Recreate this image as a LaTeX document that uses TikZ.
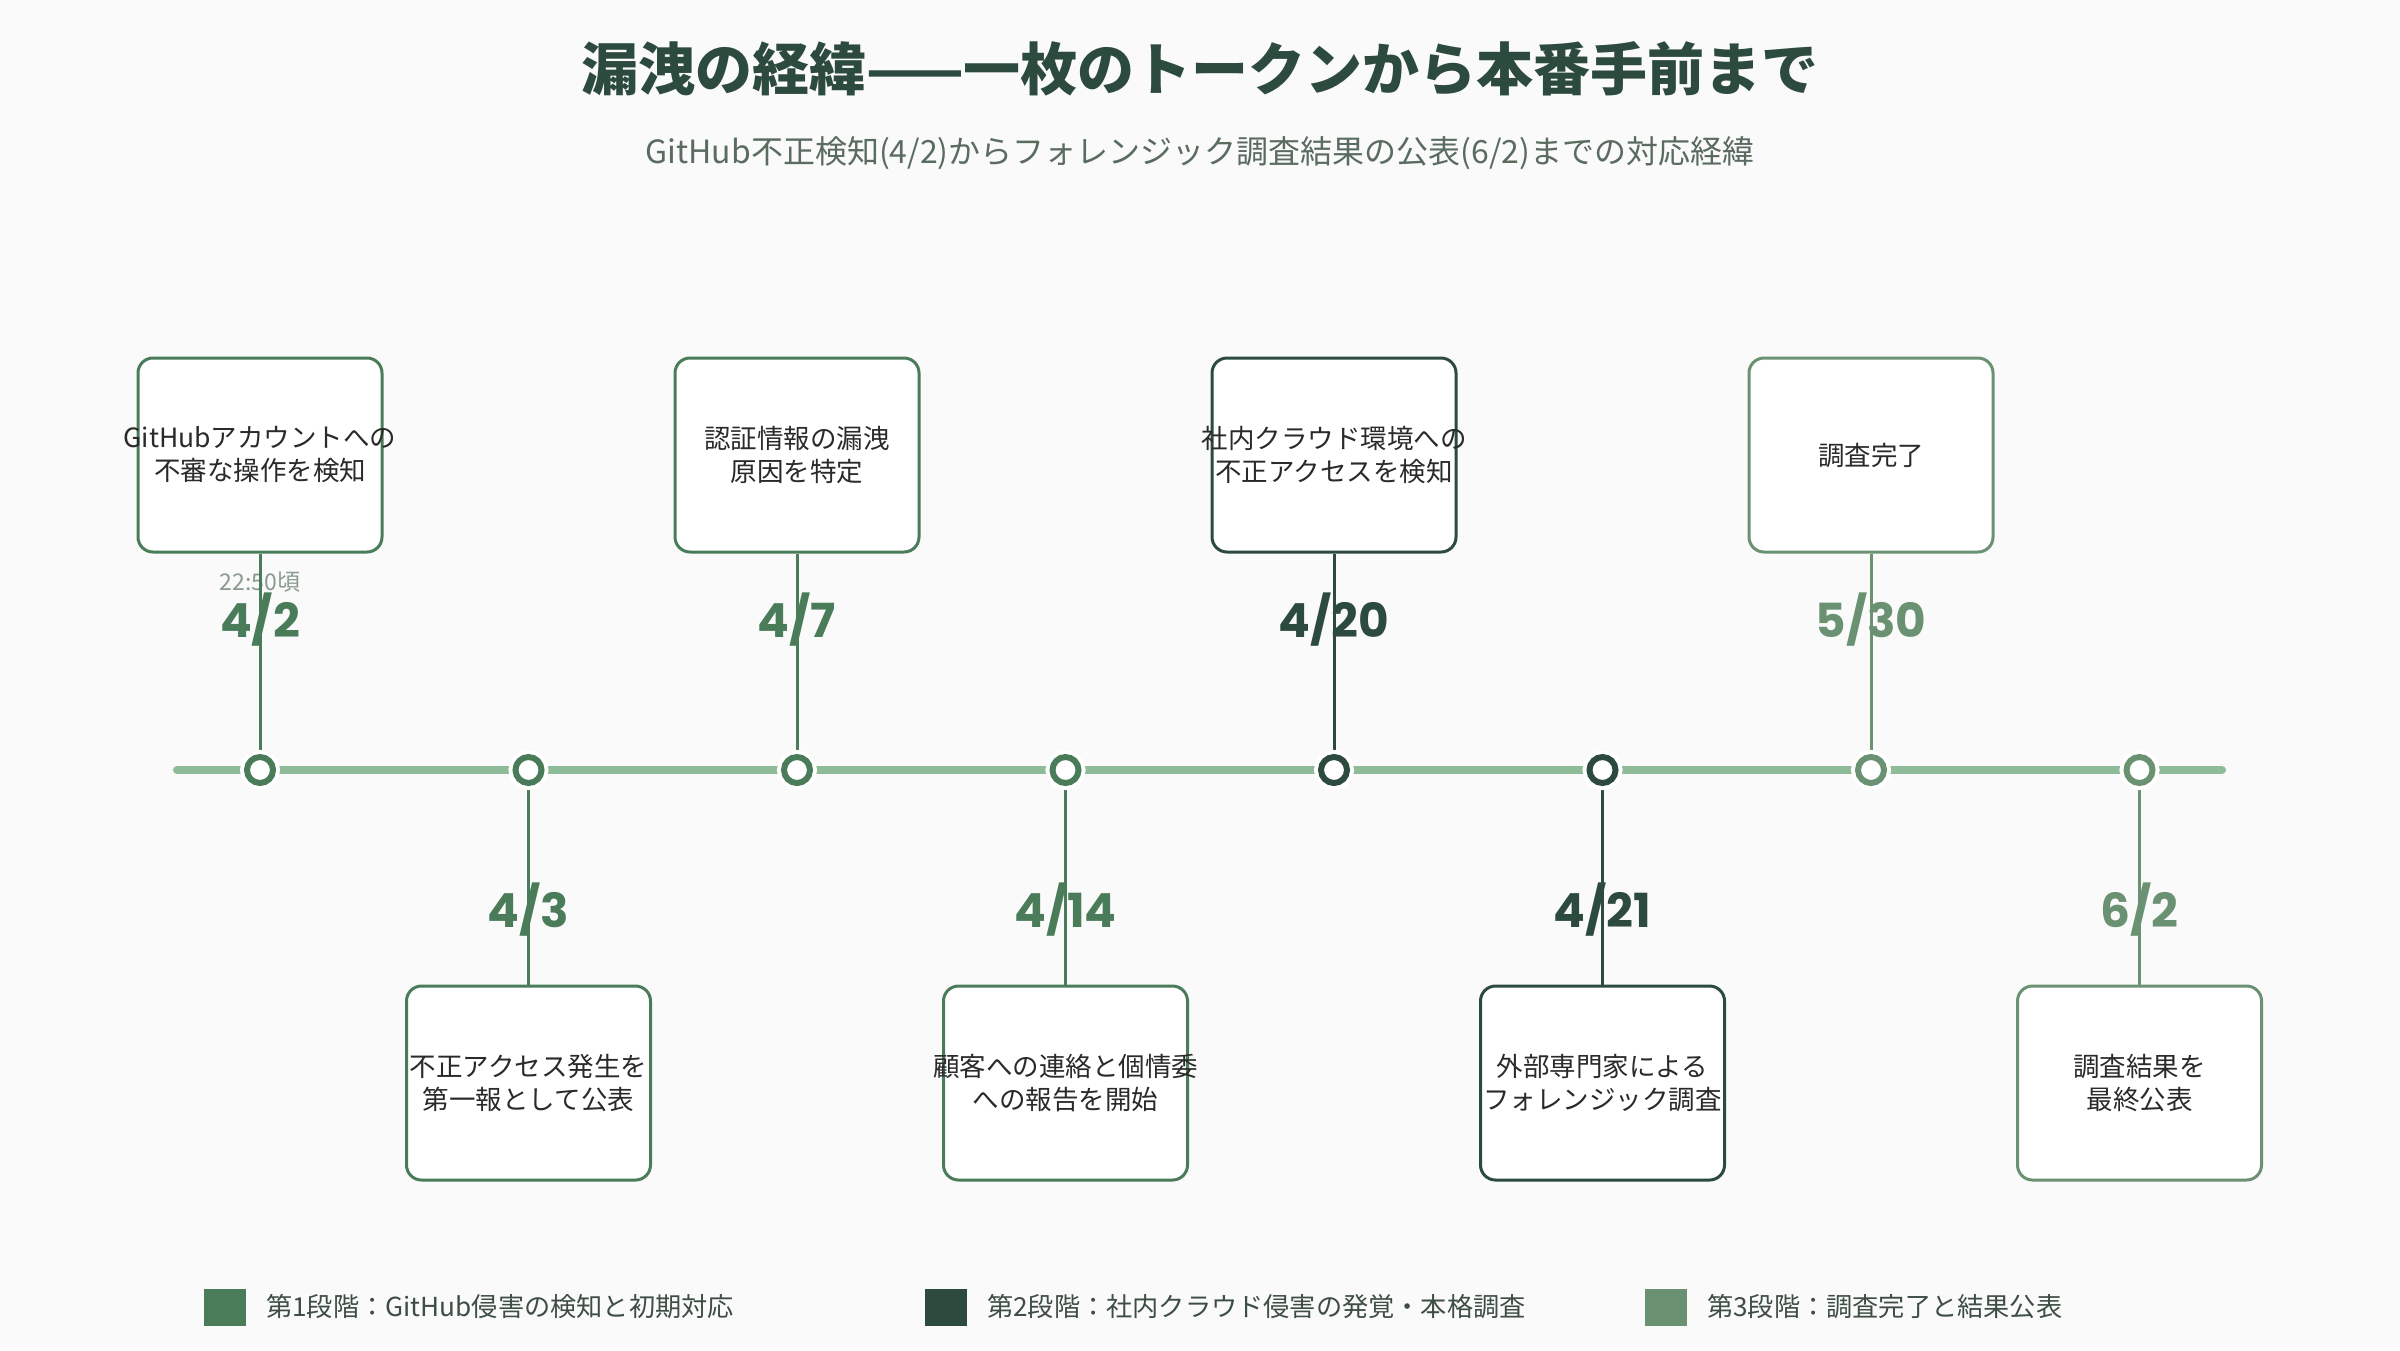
\documentclass[tikz,border=0pt]{standalone}
\usepackage{fontspec}
\setmainfont{Noto Sans CJK JP}
\newfontfamily\datefont{Poppins}
\definecolor{bg}{HTML}{FAFAFA}
\definecolor{pA}{HTML}{4A7C59}
\definecolor{pB}{HTML}{2D4A3E}
\definecolor{pC}{HTML}{6A9272}
\definecolor{tl}{HTML}{8FBC98}
\definecolor{txt}{HTML}{2A2A2A}
\definecolor{subc}{HTML}{5A6B60}
\definecolor{tmc}{HTML}{8A9A8E}
\definecolor{legc}{HTML}{3E4E44}
\newcommand\cl[1]{\makebox[0pt][c]{#1}}
\tikzset{
  card/.style={draw=#1, line width=3pt, fill=white, rounded corners=15pt,
    minimum width=244pt, minimum height=194pt, inner sep=0pt, align=center,
    text=txt, font=\fontsize{26.5}{33}\selectfont},
  datelbl/.style={text=#1, font=\datefont\fontsize{47}{49}\selectfont\bfseries, inner sep=0pt},
  dot/.style={circle, minimum size=26pt, inner sep=0pt, fill=white, draw=#1,
    line width=6pt, preaction={draw=white, line width=14pt}},
  conn/.style={draw=#1, line width=3pt},
  legbox/.style={fill=#1, minimum width=42pt, minimum height=37pt, inner sep=0pt},
  legtxt/.style={anchor=west, text=legc, font=\fontsize{26.2}{30}\selectfont, inner sep=0pt}
}
\begin{document}
\begin{tikzpicture}[x=1pt,y=-1pt]
\fill[bg] (0,0) rectangle (2400,1350);
\useasboundingbox (0,0) rectangle (2400,1350);

\node[text=pB, font=\fontsize{57}{60}\selectfont\bfseries] (title) at (1200,69) {漏洩の経緯——一枚のトークンから本番手前まで};
\node[text=subc, font=\fontsize{32}{36}\selectfont] (subtitle) at (1200,153) {GitHub不正検知(4/2)からフォレンジック調査結果の公表(6/2)までの対応経緯};

% timeline
\coordinate (tlL) at (177,770);
\coordinate (tlR) at (2222,770);
\draw[tl, line width=8pt, line cap=round] (tlL) -- (tlR);

% cards
\node[card=pA] (c1) at (260,455) {\cl{GitHubアカウントへの}\\\cl{不審な操作を検知}};
\node[card=pA] (c2) at (528.5,1083) {\cl{不正アクセス発生を}\\\cl{第一報として公表}};
\node[card=pA] (c3) at (797,455) {\cl{認証情報の漏洩}\\\cl{原因を特定}};
\node[card=pA] (c4) at (1065.5,1083) {\cl{顧客への連絡と個情委}\\\cl{への報告を開始}};
\node[card=pB] (c5) at (1334,455) {\cl{社内クラウド環境への}\\\cl{不正アクセスを検知}};
\node[card=pB] (c6) at (1602.5,1083) {\cl{外部専門家による}\\\cl{フォレンジック調査}};
\node[card=pC] (c7) at (1871,455) {\cl{調査完了}};
\node[card=pC] (c8) at (2139.5,1083) {\cl{調査結果を}\\\cl{最終公表}};

% dates
\node[text=tmc, font=\fontsize{23}{25}\selectfont, inner sep=0pt] (t1) at (260,582) {22:50頃};
\node[datelbl=pA] (d1) at (260,620) {4/2};
\node[datelbl=pA] (d2) at (528.5,910) {4/3};
\node[datelbl=pA] (d3) at (797,620) {4/7};
\node[datelbl=pA] (d4) at (1065.5,910) {4/14};
\node[datelbl=pB] (d5) at (1334,620) {4/20};
\node[datelbl=pB] (d6) at (1602.5,910) {4/21};
\node[datelbl=pC] (d7) at (1871,620) {5/30};
\node[datelbl=pC] (d8) at (2139.5,910) {6/2};

% dot positions
\coordinate (p1) at (260,770);
\coordinate (p2) at (528.5,770);
\coordinate (p3) at (797,770);
\coordinate (p4) at (1065.5,770);
\coordinate (p5) at (1334,770);
\coordinate (p6) at (1602.5,770);
\coordinate (p7) at (1871,770);
\coordinate (p8) at (2139.5,770);

% connectors
\draw[conn=pA] (c1.south) -- (p1);
\draw[conn=pA] (c2.north) -- (p2);
\draw[conn=pA] (c3.south) -- (p3);
\draw[conn=pA] (c4.north) -- (p4);
\draw[conn=pB] (c5.south) -- (p5);
\draw[conn=pB] (c6.north) -- (p6);
\draw[conn=pC] (c7.south) -- (p7);
\draw[conn=pC] (c8.north) -- (p8);

% dots
\node[dot=pA] (o1) at (p1) {};
\node[dot=pA] (o2) at (p2) {};
\node[dot=pA] (o3) at (p3) {};
\node[dot=pA] (o4) at (p4) {};
\node[dot=pB] (o5) at (p5) {};
\node[dot=pB] (o6) at (p6) {};
\node[dot=pC] (o7) at (p7) {};
\node[dot=pC] (o8) at (p8) {};

% legend
\node[legbox=pA] (l1) at (225,1307) {};
\node[legtxt] (lt1) at (266,1307) {第1段階：GitHub侵害の検知と初期対応};
\node[legbox=pB] (l2) at (945.5,1307) {};
\node[legtxt] (lt2) at (987,1307) {第2段階：社内クラウド侵害の発覚・本格調査};
\node[legbox=pC] (l3) at (1665.5,1307) {};
\node[legtxt] (lt3) at (1707,1307) {第3段階：調査完了と結果公表};
\end{tikzpicture}
\end{document}
